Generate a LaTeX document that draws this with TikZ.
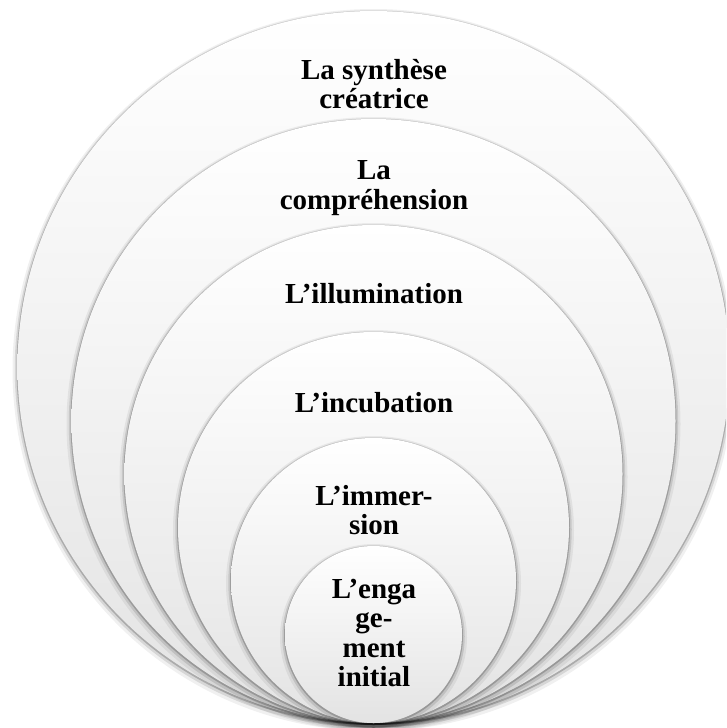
\documentclass[tikz,border=0pt]{standalone}
\usepackage{fontspec}
\setmainfont{Liberation Serif}

\tikzset{
  ring/.style={circle, inner sep=0pt, top color=white, bottom color=black!11,
    preaction={draw=black, draw opacity=.06, line width=10pt, transform canvas={yshift=-3pt}},
    preaction={draw=black, draw opacity=.11, line width=5.5pt, transform canvas={yshift=-2pt}},
    preaction={draw=black, draw opacity=.2, line width=2pt, transform canvas={yshift=-1pt}}},
  stage/.style={font=\bfseries\fontsize{29}{29.5}\selectfont, align=center, inner sep=0pt}
}

\begin{document}
\begin{tikzpicture}[x=1pt, y=-1pt]
  \clip (0,0) rectangle (726,728);
  % nested circles, all touching at the bottom
  \node (synthese) [ring, minimum size=712pt] at (373.5,367) {};
  \node (comprehension) [ring, minimum size=604pt] at (373.5,421) {};
  \node (illumination) [ring, minimum size=498pt] at (373.5,474) {};
  \node (incubation) [ring, minimum size=391pt] at (373.5,527.5) {};
  \node (immersion) [ring, minimum size=285pt] at (373.5,580.5) {};
  \node (engagement) [ring, minimum size=177pt] at (373.5,634.5) {};
  % labels
  \node (tsynthese) [stage] at (374,84) {La synthèse\\créatrice};
  \node (tcomprehension) [stage] at (374,188) {La\\compréhension};
  \node (tillumination) [stage] at (374,294) {L’illumination};
  \node (tincubation) [stage] at (374,403) {L’incubation};
  \node (timmersion) [stage] at (374,510) {L’immer-\\sion};
  \node (tengagement) [stage] at (374,633) {L’enga\\ge-\\ment\\initial};
\end{tikzpicture}
\end{document}
